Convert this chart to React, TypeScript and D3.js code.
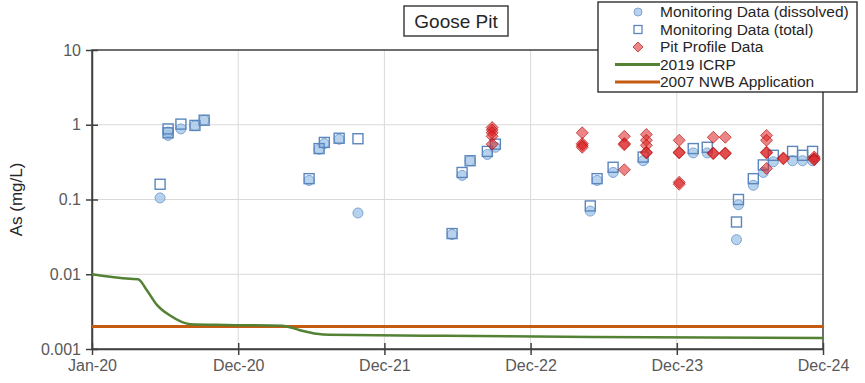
import React, { useRef, useEffect } from 'react'
import * as d3 from 'd3'

// As concentrations (mg/L)
const dissolvedData: [string, number][] = [
    ['2020-06-19', 0.105], ['2020-07-09', 0.72], ['2020-07-09', 0.8], ['2020-08-10', 0.88],
    ['2020-09-14', 0.97], ['2020-10-07', 1.15],
    ['2021-06-26', 0.18], ['2021-07-21', 0.47], ['2021-08-03', 0.56], ['2021-09-09', 0.64],
    ['2021-10-26', 0.066],
    ['2022-06-18', 0.034], ['2022-07-13', 0.21], ['2022-08-02', 0.33], ['2022-09-14', 0.4],
    ['2022-10-04', 0.5],
    ['2023-05-29', 0.07], ['2023-06-15', 0.18], ['2023-07-25', 0.23], ['2023-10-08', 0.33],
    ['2024-02-10', 0.42], ['2024-03-16', 0.42], ['2024-05-28', 0.029], ['2024-06-02', 0.085],
    ['2024-07-09', 0.155], ['2024-08-03', 0.23], ['2024-08-28', 0.32], ['2024-10-15', 0.33],
    ['2024-11-09', 0.33], ['2024-12-04', 0.33],
]

const totalData: [string, number][] = [
    ['2020-06-19', 0.16], ['2020-07-09', 0.78], ['2020-07-09', 0.88], ['2020-08-10', 1.02],
    ['2020-09-14', 0.98], ['2020-10-07', 1.15],
    ['2021-06-26', 0.19], ['2021-07-21', 0.48], ['2021-08-03', 0.58], ['2021-09-09', 0.66],
    ['2021-10-26', 0.65],
    ['2022-06-18', 0.035], ['2022-07-13', 0.23], ['2022-08-02', 0.33], ['2022-09-14', 0.44],
    ['2022-10-04', 0.55],
    ['2023-05-29', 0.082], ['2023-06-15', 0.19], ['2023-07-25', 0.27], ['2023-10-08', 0.37],
    ['2024-02-10', 0.48], ['2024-03-16', 0.5], ['2024-05-28', 0.05], ['2024-06-02', 0.1],
    ['2024-07-09', 0.19], ['2024-08-03', 0.29], ['2024-08-28', 0.39], ['2024-10-15', 0.44],
    ['2024-11-09', 0.39], ['2024-12-04', 0.44],
]

const pitProfileData: [string, number][] = [
    ['2022-09-26', 0.92], ['2022-09-26', 0.85], ['2022-09-26', 0.78], ['2022-09-26', 0.7], ['2022-09-26', 0.55],
    ['2023-05-09', 0.78], ['2023-05-09', 0.56], ['2023-05-09', 0.53], ['2023-05-09', 0.5],
    ['2023-08-22', 0.7], ['2023-08-22', 0.56], ['2023-08-22', 0.54], ['2023-08-22', 0.25],
    ['2023-10-16', 0.74], ['2023-10-16', 0.62], ['2023-10-16', 0.53], ['2023-10-16', 0.43], ['2023-10-16', 0.42],
    ['2024-01-06', 0.62], ['2024-01-06', 0.43], ['2024-01-06', 0.42], ['2024-01-06', 0.17], ['2024-01-06', 0.16],
    ['2024-03-31', 0.68], ['2024-03-31', 0.42], ['2024-03-31', 0.41],
    ['2024-04-30', 0.68], ['2024-04-30', 0.42], ['2024-04-30', 0.41],
    ['2024-08-11', 0.72], ['2024-08-11', 0.62], ['2024-08-11', 0.43], ['2024-08-11', 0.42], ['2024-08-11', 0.26],
    ['2024-09-22', 0.36], ['2024-09-22', 0.35],
    ['2024-12-08', 0.37], ['2024-12-08', 0.35], ['2024-12-08', 0.34],
]

const icrpData: [string, number][] = [
    ['2020-01-01', 0.01], ['2020-04-05', 0.0087], ['2020-04-25', 0.0086], ['2020-05-17', 0.0061],
    ['2020-06-11', 0.0039], ['2020-07-14', 0.0028], ['2020-09-02', 0.00215], ['2020-12-01', 0.0021],
    ['2021-04-20', 0.00205], ['2021-06-01', 0.0018], ['2021-07-15', 0.0016], ['2021-08-15', 0.00155],
    ['2022-06-01', 0.0015], ['2023-06-01', 0.00145], ['2024-12-30', 0.0014],
]

const nwbData: [string, number][] = [['2020-01-01', 0.002], ['2024-12-30', 0.002]]

const yTicks = [0.001, 0.01, 0.1, 1, 10]
const yTickLabels = ['0.001', '0.01', '0.1', '1', '10']

const legendItems = [
    { label: 'Monitoring Data (dissolved)', kind: 'circle' },
    { label: 'Monitoring Data (total)', kind: 'square' },
    { label: 'Pit Profile Data', kind: 'diamond' },
    { label: '2019 ICRP', kind: 'green' },
    { label: '2007 NWB Application', kind: 'orange' },
]

const W = 865
const H = 383
const FONT = '"Liberation Sans", Arial, sans-serif'

export default function App() {
    const ref = useRef<SVGSVGElement>(null)
    const margin = { top: 50, right: 42, bottom: 34, left: 92 }

    useEffect(() => {
        const svg = d3.select(ref.current)
        svg.selectAll('*').remove()

        const parse = d3.timeParse('%Y-%m-%d')
        const start = parse('2020-01-01') as Date
        const xTicks = d3.range(6).map((i) => d3.timeDay.offset(start, 365 * i))

        const x = d3
            .scaleTime()
            .domain([start, xTicks[5]])
            .range([margin.left, W - margin.right])
        const y = d3
            .scaleLog()
            .domain([0.001, 10])
            .range([H - margin.bottom, margin.top])

        const x0 = margin.left
        const x1 = W - margin.right
        const y0 = H - margin.bottom
        const y1 = margin.top

        // gridlines
        const grid = svg.append('g')
        grid.selectAll('line.h')
            .data(yTicks.slice(1, -1))
            .join('line')
            .attr('x1', x0).attr('x2', x1)
            .attr('y1', (d) => y(d)).attr('y2', (d) => y(d))
            .attr('stroke', '#d9d9d9').attr('stroke-width', 1)
        grid.selectAll('line.v')
            .data(xTicks.slice(1, -1))
            .join('line')
            .attr('y1', y1).attr('y2', y0)
            .attr('x1', (d) => x(d)).attr('x2', (d) => x(d))
            .attr('stroke', '#d9d9d9').attr('stroke-width', 1)

        // frame
        svg.append('rect')
            .attr('x', x0).attr('y', y1)
            .attr('width', x1 - x0).attr('height', y0 - y1)
            .attr('fill', 'none').attr('stroke', '#404040').attr('stroke-width', 1.5)

        // axes
        svg.append('g')
            .attr('transform', 'translate(0,' + y0 + ')')
            .call(
                d3.axisBottom(x)
                    .tickValues(xTicks)
                    .tickFormat((d) => d3.timeFormat('%b-%y')(d as Date))
                    .tickSizeInner(6)
                    .tickSizeOuter(0)
                    .tickPadding(5)
            )
            .call((g) => g.select('.domain').attr('stroke', '#404040').attr('stroke-width', 1.5))
            .call((g) => g.selectAll('.tick line').attr('stroke', '#404040').attr('stroke-width', 1.5).attr('y1', -6))
            .call((g) => g.selectAll('.tick text').attr('font-family', FONT).attr('font-size', 16).attr('fill', '#595959'))

        svg.append('g')
            .attr('transform', 'translate(' + x0 + ',0)')
            .call(
                d3.axisLeft(y)
                    .tickValues(yTicks)
                    .tickFormat((d, i) => yTickLabels[i])
                    .tickSizeInner(6)
                    .tickSizeOuter(0)
                    .tickPadding(5)
            )
            .call((g) => g.select('.domain').attr('stroke', '#404040').attr('stroke-width', 1.5))
            .call((g) => g.selectAll('.tick line').attr('stroke', '#404040').attr('stroke-width', 1.5).attr('x1', 6))
            .call((g) => g.selectAll('.tick text').attr('font-family', FONT).attr('font-size', 16).attr('fill', '#595959'))

        svg.append('text')
            .attr('transform', 'translate(22,' + (y1 + y0) / 2 + ') rotate(-90)')
            .attr('text-anchor', 'middle')
            .attr('font-family', FONT).attr('font-size', 17).attr('fill', '#262626')
            .text('As (mg/L)')

        // lines
        const line = d3
            .line<[string, number]>()
            .x((d) => x(parse(d[0]) as Date))
            .y((d) => y(d[1]))
            .curve(d3.curveMonotoneX)

        svg.append('path').datum(nwbData).attr('d', line)
            .attr('fill', 'none').attr('stroke', '#c55a11').attr('stroke-width', 3)
        svg.append('path').datum(icrpData).attr('d', line)
            .attr('fill', 'none').attr('stroke', '#548235').attr('stroke-width', 2.5)

        // markers
        svg.append('g').selectAll('circle')
            .data(dissolvedData)
            .join('circle')
            .attr('cx', (d) => x(parse(d[0]) as Date))
            .attr('cy', (d) => y(d[1]))
            .attr('r', 5)
            .attr('fill', '#9dc3e6').attr('fill-opacity', 0.75)
            .attr('stroke', '#7ea6d6').attr('stroke-width', 1)

        svg.append('g').selectAll('rect')
            .data(totalData)
            .join('rect')
            .attr('x', (d) => x(parse(d[0]) as Date) - 5)
            .attr('y', (d) => y(d[1]) - 5)
            .attr('width', 10).attr('height', 10)
            .attr('fill', 'none')
            .attr('stroke', '#5b86bd').attr('stroke-width', 1.4)

        const diamond = 'M0,-6L6,0L0,6L-6,0Z'
        svg.append('g').selectAll('path')
            .data(pitProfileData)
            .join('path')
            .attr('d', diamond)
            .attr('transform', (d) => 'translate(' + x(parse(d[0]) as Date) + ',' + y(d[1]) + ')')
            .attr('fill', '#dd2020').attr('fill-opacity', 0.55)
            .attr('stroke', '#b00000').attr('stroke-opacity', 0.6).attr('stroke-width', 1)

        // title
        const title = svg.append('g')
        title.append('rect')
            .attr('x', 404).attr('y', 6).attr('width', 104).attr('height', 30)
            .attr('fill', 'white').attr('stroke', '#404040').attr('stroke-width', 1.5)
        title.append('text')
            .attr('x', 456).attr('y', 28)
            .attr('text-anchor', 'middle')
            .attr('font-family', FONT).attr('font-size', 19).attr('fill', '#262626')
            .text('Goose Pit')

        // legend
        const lg = svg.append('g').attr('transform', 'translate(598,2)')
        lg.append('rect')
            .attr('width', 259).attr('height', 90)
            .attr('fill', 'white').attr('stroke', '#202020').attr('stroke-width', 1.3)
        const rows = lg.selectAll('g.row')
            .data(legendItems)
            .join('g')
            .attr('transform', (d, i) => 'translate(0,' + (10 + i * 17.5) + ')')
        rows.append('text')
            .attr('x', 62).attr('dy', '0.35em')
            .attr('font-family', FONT).attr('font-size', 15.5).attr('fill', '#262626')
            .text((d) => d.label)
        rows.filter((d) => d.kind === 'circle').append('circle')
            .attr('cx', 40).attr('r', 4)
            .attr('fill', '#9dc3e6').attr('fill-opacity', 0.75).attr('stroke', '#7ea6d6')
        rows.filter((d) => d.kind === 'square').append('rect')
            .attr('x', 36).attr('y', -4).attr('width', 8).attr('height', 8)
            .attr('fill', 'none').attr('stroke', '#5b86bd').attr('stroke-width', 1.3)
        rows.filter((d) => d.kind === 'diamond').append('path')
            .attr('d', 'M0,-5L5,0L0,5L-5,0Z').attr('transform', 'translate(40,0)')
            .attr('fill', '#dd2020').attr('fill-opacity', 0.55).attr('stroke', '#b00000').attr('stroke-opacity', 0.6)
        rows.filter((d) => d.kind === 'green' || d.kind === 'orange').append('line')
            .attr('x1', 17).attr('x2', 62)
            .attr('stroke', (d) => (d.kind === 'green' ? '#548235' : '#c55a11'))
            .attr('stroke-width', 3)
    }, [])

    return (
        <svg
            ref={ref}
            width={W}
            height={H}
            style={{ position: 'absolute', left: 0, top: 0, background: 'white' }}
        ></svg>
    )
}
